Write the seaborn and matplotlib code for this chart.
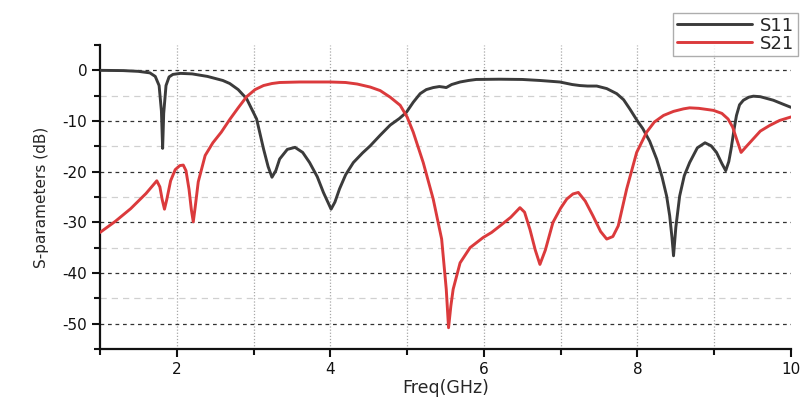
import numpy as np
import pandas as pd
import seaborn as sns
import matplotlib.pyplot as plt
from matplotlib.ticker import MultipleLocator
from matplotlib.lines import Line2D

# (GHz, dB)
s11_freq = [1.0, 1.3, 1.5, 1.65, 1.72, 1.77, 1.80, 1.816, 1.83, 1.86, 1.9, 1.95,
            2.05, 2.2, 2.4, 2.6, 2.69, 2.8, 2.91, 3.04, 3.13, 3.19, 3.24, 3.29,
            3.34, 3.44, 3.54, 3.64, 3.73, 3.83, 3.91, 4.01, 4.06, 4.12, 4.2, 4.3,
            4.42, 4.52, 4.65, 4.78, 4.9, 4.99, 5.08, 5.17, 5.25, 5.34, 5.42, 5.47,
            5.51, 5.58, 5.69, 5.8, 5.9, 6.2, 6.5, 6.73, 6.99, 7.15, 7.25, 7.35,
            7.47, 7.6, 7.73, 7.82, 7.9, 8.0, 8.07, 8.16, 8.25, 8.32, 8.38, 8.42,
            8.45, 8.47, 8.50, 8.55, 8.61, 8.68, 8.78, 8.88, 8.96, 9.03, 9.1, 9.15,
            9.19, 9.22, 9.26, 9.29, 9.33, 9.38, 9.45, 9.51, 9.6, 9.77, 9.9, 10.0]
s11_db = [0.0, -0.05, -0.2, -0.5, -1.2, -3.0, -8.0, -15.4, -8.5, -3.0, -1.3, -0.8,
          -0.6, -0.7, -1.2, -2.0, -2.6, -3.8, -5.6, -9.6, -15.5, -19.0, -21.1, -19.8,
          -17.5, -15.6, -15.2, -16.2, -18.2, -21.0, -24.1, -27.4, -26.0, -23.4, -20.6, -18.2,
          -16.3, -14.9, -12.8, -10.8, -9.5, -8.3, -6.3, -4.6, -3.8, -3.4, -3.2, -3.3,
          -3.4, -2.8, -2.3, -2.0, -1.8, -1.75, -1.8, -2.0, -2.3, -2.8, -3.0, -3.1,
          -3.1, -3.6, -4.6, -5.8, -7.6, -10.0, -11.5, -14.0, -17.5, -21.0, -24.8, -28.7,
          -33.0, -36.6, -31.0, -24.8, -20.8, -18.2, -15.3, -14.3, -14.9, -16.2, -18.4, -19.8,
          -18.0, -15.5, -11.5, -8.9, -6.8, -5.9, -5.3, -5.1, -5.2, -5.9, -6.7, -7.3]

s21_freq = [1.0, 1.2, 1.4, 1.6, 1.74, 1.78, 1.81, 1.84, 1.87, 1.92, 1.98, 2.04,
            2.085, 2.12, 2.16, 2.19, 2.215, 2.24, 2.28, 2.37, 2.47, 2.58, 2.69, 2.8,
            2.91, 3.02, 3.13, 3.24, 3.34, 3.6, 4.0, 4.2, 4.35, 4.52, 4.65, 4.78,
            4.91, 5.0, 5.08, 5.21, 5.34, 5.45, 5.51, 5.54, 5.57, 5.6, 5.69, 5.82,
            5.99, 6.1, 6.21, 6.35, 6.47, 6.53, 6.6, 6.67, 6.73, 6.8, 6.9, 7.0,
            7.08, 7.16, 7.23, 7.32, 7.42, 7.52, 7.6, 7.68, 7.75, 7.86, 7.99, 8.12,
            8.22, 8.34, 8.47, 8.6, 8.68, 8.8, 8.99, 9.1, 9.18, 9.24, 9.29, 9.35,
            9.42, 9.51, 9.6, 9.72, 9.85, 10.0]
s21_db = [-32.0, -29.8, -27.3, -24.3, -21.8, -23.0, -25.5, -27.4, -25.5, -21.8, -19.6, -18.8,
          -18.7, -19.8, -23.5, -27.5, -29.9, -27.0, -22.0, -16.8, -14.3, -12.2, -9.7, -7.4,
          -5.2, -3.8, -3.0, -2.6, -2.4, -2.3, -2.3, -2.4, -2.7, -3.3, -4.0, -5.3,
          -6.9, -9.2, -12.2, -18.2, -25.4, -33.3, -43.2, -50.8, -46.5, -43.2, -38.0, -35.0,
          -33.0, -32.0, -30.7, -29.0, -27.1, -28.0, -31.4, -35.5, -38.3, -35.5, -30.0, -27.2,
          -25.4, -24.4, -24.1, -25.8, -28.7, -31.8, -33.3, -32.8, -30.7, -23.4, -16.2, -12.2,
          -10.2, -8.9, -8.1, -7.6, -7.4, -7.5, -7.9, -8.5, -9.6, -11.2, -13.5, -16.2,
          -15.0, -13.5, -12.0, -10.9, -9.9, -9.2]

df = pd.concat([
    pd.DataFrame({'freq': s11_freq, 'db': s11_db, 'param': 'S11'}),
    pd.DataFrame({'freq': s21_freq, 'db': s21_db, 'param': 'S21'}),
])

sns.set_style('ticks')
plt.rcParams['font.family'] = ['DejaVu Sans']
plt.rcParams['axes.unicode_minus'] = False

colors = {'S11': '#3b3b3b', 'S21': '#db3a3c'}

fig = plt.figure(figsize=(8.05, 3.99), dpi=100)
ax = fig.add_axes([0.1242, 0.1253, 0.8584, 0.7619])

sns.lineplot(data=df, x='freq', y='db', hue='param', palette=colors,
             linewidth=2.1, legend=False, ax=ax, zorder=3)

ax.set_xlim(1, 10)
ax.set_ylim(-55, 5)
ax.xaxis.set_major_locator(MultipleLocator(2))
ax.xaxis.set_minor_locator(MultipleLocator(1))
ax.yaxis.set_major_locator(MultipleLocator(10))
ax.yaxis.set_minor_locator(MultipleLocator(5))
ax.set_yticks([0, -10, -20, -30, -40, -50])

# grid
ax.grid(False)
for v in range(2, 10):
    ax.axvline(v, color='#a8a8a8', lw=0.9, ls=(0, (1, 1.5)), zorder=1)
for h in np.arange(-50, 1, 10):
    ax.axhline(h, color='#333333', lw=0.9, ls=(0, (3, 3)), zorder=1)
for h in np.arange(-45, 0, 10):
    ax.axhline(h, color='#d0d0d0', lw=0.9, ls=(0, (5, 4)), zorder=1)

sns.despine(ax=ax)
for s in ('left', 'bottom'):
    ax.spines[s].set_linewidth(1.6)
    ax.spines[s].set_color('#111111')

ax.tick_params(which='major', direction='out', length=6, width=1.5,
               labelsize=11, pad=3, colors='#111111')
ax.tick_params(which='minor', direction='out', length=4, width=1.5, colors='#111111')

ax.set_xlabel('Freq(GHz)', fontsize=12.5, labelpad=2)
ax.set_ylabel('S-parameters (dB)', fontsize=11, labelpad=10)

handles = [Line2D([], [], color=colors[k], lw=2.1) for k in ('S11', 'S21')]
leg = fig.legend(handles, ['S11', 'S21'], loc='upper left',
                 bbox_to_anchor=(0.836, 0.967), fontsize=13, frameon=True,
                 fancybox=False, edgecolor='#999999', labelspacing=0.0,
                 handlelength=4.2, handletextpad=0.4, borderpad=0.2,
                 borderaxespad=0)
leg.get_frame().set_linewidth(1.0)

fig.savefig('out.png', dpi=100)
